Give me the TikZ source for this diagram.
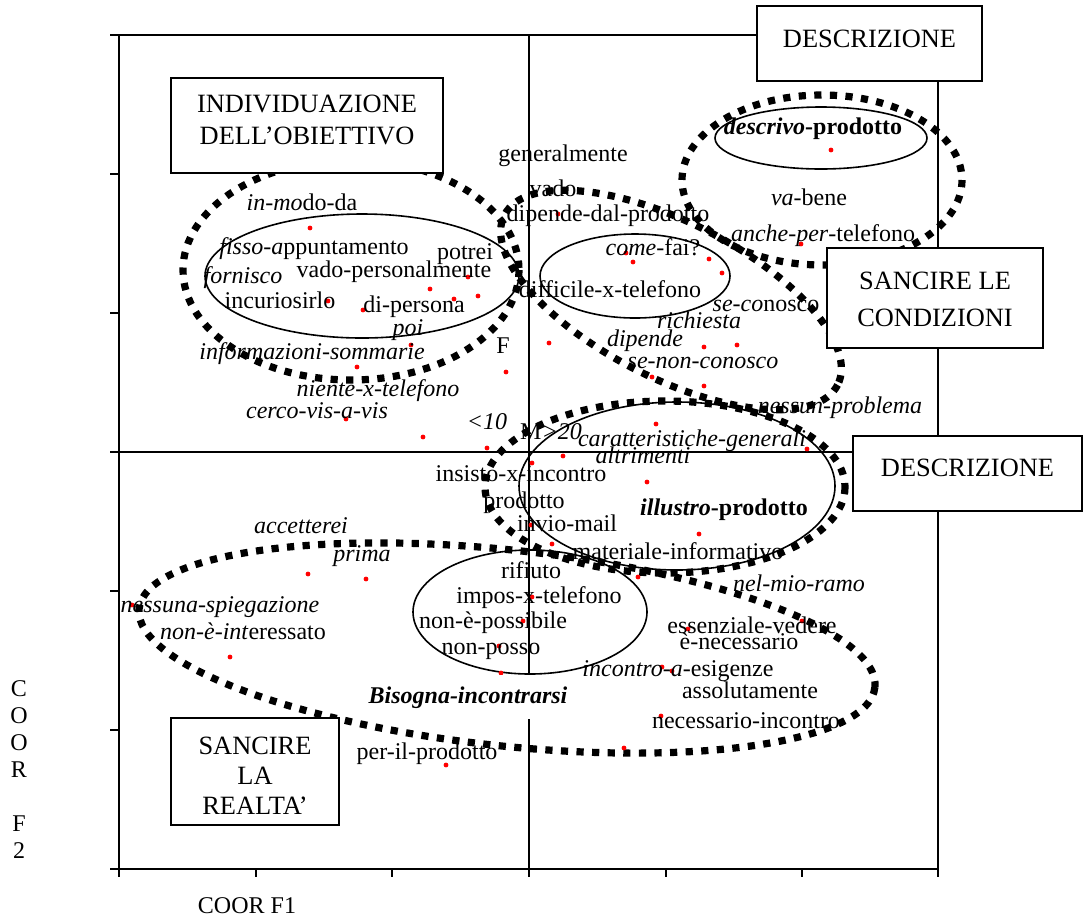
\documentclass[tikz,border=0pt]{standalone}
\usepackage{fontspec}
\setmainfont{Liberation Serif}
\begin{document}
\begin{tikzpicture}[x=0.5pt,y=-0.5pt,
  lbl/.style={inner sep=0pt,text height=8.5pt,text depth=2.5pt,font=\fontsize{12}{14}\selectfont},
  boxn/.style={draw,line width=1pt,fill=white,inner sep=0pt,font=\fontsize{13.2}{16}\selectfont},
  ring/.style={line width=0.8pt},
  dotring/.style={line width=3.6pt,dash pattern=on 3.6pt off 4.2pt},
  ax/.style={line width=0.8pt},
  pt/.style={fill=red}]
\fill[white] (0,0) rectangle (1086,917);
\useasboundingbox (0,0) rectangle (1086,917);
% frame and axes
\draw[ax] (119,35) rectangle (938,869);
\draw[ax] (529,35) -- (529,869);
\draw[ax] (119,452) -- (938,452);
\foreach \y in {35,174,313,452,591,730,869} \draw[ax] (110,\y) -- (119,\y);
\foreach \x in {119,256,392,529,666,802,938} \draw[ax] (\x,869) -- (\x,877);
% solid ellipses
\draw[ring] (362,276) ellipse [x radius=157,y radius=62];
\draw[ring] (635,276) ellipse [x radius=95,y radius=42];
\draw[ring] (821,138) ellipse [x radius=106,y radius=31];
\draw[ring] (677,486) ellipse [x radius=158,y radius=84];
\draw[ring] (530,612) ellipse [x radius=117,y radius=62];
% dotted groups
\draw[dotring] (351,270) ellipse [x radius=168,y radius=110];
\draw[dotring] (822,180) ellipse [x radius=140,y radius=85];
\draw[dotring,rotate around={-27:(671,300)}] (671,300) ellipse [x radius=187,y radius=78];
\draw[dotring] (665,487) ellipse [x radius=180,y radius=86];
\draw[dotring,rotate around={-6.1:(507,648)}] (507,648) ellipse [x radius=370,y radius=98];
% points
\foreach \p in {(310,228),(430,289),(468,277),(478,296),(454,299),(328,301),(363,310),(411,345),(357,367),(506,372),(346,419),(423,437),(487,448),
(558,214),(626,253),(633,262),(709,259),(722,273),(831,150),(801,244),(549,343),(704,347),(737,345),(652,377),(704,386),(656,424),(807,449),(563,456),
(532,463),(647,482),(699,534),(552,544),(638,577),(532,597),(523,621),(499,646),(501,673),(688,629),(802,621),(662,667),(672,671),(661,716),(624,748),(446,765),(531,525),
(132,605),(308,574),(366,579),(230,657)}
  \fill[pt] \p circle[radius=1.2pt];
% labels
\node[lbl] (l1) at (302,204) {\textit{in-mo}do-da};
\node[lbl] (l2) at (314,248) {\textit{fisso-a}ppuntamento};
\node[lbl] (l3) at (465,253) {potrei};
\node[lbl] (l4) at (243,277) {\textit{fornisco}};
\node[lbl] (l5) at (394,271) {vado-personalmente};
\node[lbl] (l6) at (280,302) {incuriosirlo};
\node[lbl] (l7) at (414,306) {di-persona};
\node[lbl] (l8) at (408,329) {\textit{poi}};
\node[lbl] (l9) at (312,353) {\textit{informazioni-sommarie}};
\node[lbl] (l10) at (503,347) {F};
\node[lbl] (l11) at (378,390) {\textit{niente-x-telefono}};
\node[lbl] (l12) at (317,412) {\textit{cerco-vis-a-vis}};
\node[lbl] (l13) at (487,423) {\textit{<10}};
\node[lbl] (l14) at (551,433) {M\textit{>20}};
\node[lbl] (l15) at (563,155) {generalmente};
\node[lbl] (l16) at (553,190) {vado};
\node[lbl] (l17) at (608,215) {dipende-dal-prodotto};
\node[lbl] (l18) at (653,249) {\textit{come}-fai?};
\node[lbl] (l19) at (610,291) {difficile-x-telefono};
\node[lbl] (l20) at (766,305) {\textit{se-co}nosco};
\node[lbl] (l21) at (699,322) {\textit{richiesta}};
\node[lbl] (l22) at (645,340) {\textit{dipende}};
\node[lbl] (l23) at (703,362) {\textit{se-non-conosco}};
\node[lbl] (l24) at (840,407) {\textit{nessun-problema}};
\node[lbl] (l25) at (692,440) {\textit{caratteristiche-generali}};
\node[lbl] (l26) at (643,457) {\textit{altrimenti}};
\node[lbl] (l27) at (813,128) {\textbf{\textit{descrivo}-prodotto}};
\node[lbl] (l28) at (809,199) {\textit{va}-bene};
\node[lbl] (l29) at (823,235) {\textit{anche-per}-telefono};
\node[lbl] (l30) at (521,475) {insisto-x-incontro};
\node[lbl] (l31) at (524,502) {prodotto};
\node[lbl] (l32) at (724,509) {\textbf{\textit{illustro}-prodotto}};
\node[lbl] (l33) at (567,525) {invio-mail};
\node[lbl] (l34) at (678,553) {materiale-informativo};
\node[lbl] (l35) at (531,572) {rifiuto};
\node[lbl] (l36) at (539,597) {impos-x-telefono};
\node[lbl] (l37) at (493,622) {non-è-possibile};
\node[lbl] (l38) at (491,648) {non-posso};
\node[lbl] (l39) at (799,585) {\textit{nel-mio-ramo}};
\node[lbl] (l40) at (752,627) {essenziale-vedere};
\node[lbl] (l41) at (739,643) {è-necessario};
\node[lbl] (l42) at (678,670) {\textit{incontro-a}-esigenze};
\node[lbl] (l43) at (750,692) {assolutamente};
\node[lbl,fill=white,inner xsep=2pt,inner ysep=5.3pt] (l44) at (468,697) {\textbf{\textit{Bisogna-incontrarsi}}};
\node[lbl] (l45) at (746,722) {necessario-incontro};
\node[lbl] (l46) at (427,753) {per-il-prodotto};
\node[lbl] (l47) at (301,527) {\textit{accetterei}};
\node[lbl] (l48) at (362,555) {\textit{prima}};
\node[lbl] (l49) at (220,606) {\textit{nessuna-spiegazione}};
\node[lbl] (l50) at (243,633) {\textit{non-è-int}eressato};
% axis titles
\node[lbl] (f1) at (247,907) {COOR F1};
\node[inner sep=0pt,align=center,font=\fontsize{12}{13.5}\selectfont] (f2) at (19,770) {C\\O\\O\\R\\\mbox{}\\F\\2};
% boxes
\node[boxn,minimum width=112.5pt,minimum height=37.5pt] (b1) at (869.5,43.5)
  {\raisebox{0pt}[9.5pt][5.6pt]{DESCRIZIONE}};
\node[boxn,minimum width=136pt,minimum height=47.5pt] (b2) at (307,125.5)
  {\raisebox{0pt}[9.5pt][22.5pt]{\begin{tabular}[t]{@{}c@{}}INDIVIDUAZIONE\\DELL’OBIETTIVO\end{tabular}}};
\node[boxn,minimum width=108pt,minimum height=50pt,font=\fontsize{13.2}{18.5}\selectfont] (b3) at (935,298)
  {\raisebox{0pt}[9.5pt][18.1pt]{\begin{tabular}[t]{@{}c@{}}SANCIRE LE\\CONDIZIONI\end{tabular}}};
\node[boxn,minimum width=114.5pt,minimum height=37.5pt] (b4) at (967.5,473.5)
  {\raisebox{0pt}[9.5pt][6.6pt]{DESCRIZIONE}};
\node[boxn,minimum width=84pt,minimum height=53.5pt,font=\fontsize{13.2}{15}\selectfont] (b5) at (255,771.5)
  {\raisebox{0pt}[9.5pt][26.6pt]{\begin{tabular}[t]{@{}c@{}}SANCIRE\\LA\\REALTA’\end{tabular}}};
\end{tikzpicture}
\end{document}
